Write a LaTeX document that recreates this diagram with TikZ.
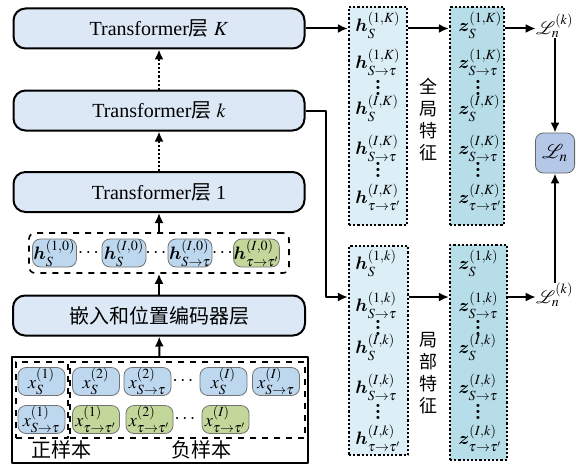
\documentclass[tikz,border=0pt]{standalone}
\usepackage{amsmath}
\usepackage{bm}
\usepackage{amssymb}
\usepackage{mathptmx}
\usepackage{fontspec}
\setmainfont{Liberation Serif}
\newfontfamily\cjk{Noto Sans CJK SC}
\usepackage{tikz}
\usetikzlibrary{arrows.meta}
\usetikzlibrary{positioning}
\definecolor{layerblue}{RGB}{220,232,245}
\definecolor{tokenblue}{RGB}{189,215,238}
\definecolor{tokengreen}{RGB}{196,215,155}
\definecolor{lossblue}{RGB}{180,199,231}
\definecolor{hcolumn}{RGB}{220,238,246}
\definecolor{zcolumn}{RGB}{183,222,232}
\newcommand{\coldots}{\vbox{\baselineskip 3pt\lineskiplimit 0pt\hbox{$\bm{.}$}\hbox{$\bm{.}$}\hbox{$\bm{.}$}}}

\begin{document}
\begin{tikzpicture}[>={Latex[length=5pt,width=4.5pt]},line join=bevel,x=0.5pt,y=-0.5pt,
    layer/.style={rectangle,rounded corners=6pt,draw,line width=1pt,fill=layerblue,minimum width=145.5pt,minimum height=20pt},
    token/.style={rectangle,rounded corners=4pt,draw=black!55,line width=0.4pt,fill=tokenblue,minimum width=22pt,minimum height=14pt,inner sep=0pt,font=\small},
    greentoken/.style={token,fill=tokengreen},
    group/.style={rectangle,draw,dashed,line width=0.8pt,rounded corners=3pt},
    column/.style={rectangle,draw,densely dotted,line width=1.1pt},
    entry/.style={anchor=west,inner sep=0pt,font=\small},
    coldot/.style={inner sep=0pt},
    losslabel/.style={anchor=east,inner sep=0pt,font=\small},
    flow/.style={color=black,line width=1pt,->}]
        %
        \useasboundingbox (0,0) rectangle (576,465);
        %
        \node[layer] (layerK) at (159,28.5) {Transformer{\cjk 层} $K$};
        \node[layer] (layerk) at (159,110.5) {Transformer{\cjk 层} $k$};
        \node[layer] (layer1) at (159,192) {Transformer{\cjk 层} 1};
        %
        \node[group,minimum width=130pt,minimum height=20pt] (hrow) at (159,253) {};
        \node[token] (h1) at (54.5,253) {$\bm{h}_S^{(1,0)}$};
        \node[coldot] (hdots1) at (89.5,253) {$\cdots$};
        \node[token] (hI) at (124,253) {$\bm{h}_S^{(I,0)}$};
        \node[coldot] (hdots2) at (157,253) {$\cdots$};
        \node[token] (hSt) at (190,253) {$\bm{h}_{S\to\tau}^{(I,0)}$};
        \node[coldot] (hdots3) at (223.5,253) {$\cdots$};
        \node[greentoken] (htt) at (256.5,253) {$\bm{h}_{\tau\to\tau'}^{(I,0)}$};
        %
        \node[layer,minimum width=146pt] (embed) at (159,315.5) {\cjk 嵌入和位置编码器层};
        %
        \node[rectangle,draw,line width=0.8pt,minimum width=148pt,minimum height=53pt] (input) at (160,410) {};
        \node[group,rounded corners=0pt,minimum width=26pt,minimum height=38pt] (pos) at (42,400) {};
        \node[group,rounded corners=0pt,minimum width=117.5pt,minimum height=38pt] (neg) at (187.5,400) {};
        \node[token,minimum width=23.5pt] (xS1) at (41.5,381.5) {$x_S^{(1)}$};
        \node[token,minimum width=23.5pt] (xS2) at (96,381.5) {$x_S^{(2)}$};
        \node[token,minimum width=23.5pt] (xSt2) at (147.5,381.5) {$x_{S\to\tau}^{(2)}$};
        \node[coldot] (xdots1) at (184,381.5) {$\cdots$};
        \node[token,minimum width=23.5pt] (xSI) at (223.5,381.5) {$x_S^{(I)}$};
        \node[token,minimum width=23.5pt] (xStI) at (276,381.5) {$x_{S\to\tau}^{(I)}$};
        \node[token,minimum width=23.5pt] (xSt1) at (41.5,419.5) {$x_{S\to\tau}^{(1)}$};
        \node[greentoken,minimum width=23.5pt] (xtt1) at (96,419.5) {$x_{\tau\to\tau'}^{(1)}$};
        \node[greentoken,minimum width=23.5pt] (xtt2) at (149.5,419.5) {$x_{\tau\to\tau'}^{(2)}$};
        \node[coldot] (xdots2) at (186,419.5) {$\cdots$};
        \node[greentoken,minimum width=23.5pt] (xttI) at (225.5,419.5) {$x_{\tau\to\tau'}^{(I)}$};
        \node[font=\cjk] (poslabel) at (61,450) {正样本};
        \node[font=\cjk] (neglabel) at (201,450) {负样本};
        %
        \node[column,fill=hcolumn,minimum width=29pt,minimum height=109pt] (hglobal) at (378,116) {};
        \node[entry] (hg1) at (355,25) {$\bm{h}_S^{(1,K)}$};
        \node[entry] (hg2) at (355,62) {$\bm{h}_{S\to\tau}^{(1,K)}$};
        \node[coldot] (hg3) at (378,88) {\coldots};
        \node[entry] (hg4) at (355,108) {$\bm{h}_S^{(I,K)}$};
        \node[entry] (hg5) at (355,148) {$\bm{h}_{S\to\tau}^{(I,K)}$};
        \node[coldot] (hg6) at (378,170) {\coldots};
        \node[entry] (hg7) at (355,197) {$\bm{h}_{\tau\to\tau'}^{(I,K)}$};
        \node[font=\cjk\small,align=center] (globallabel) at (428,120) {全\\局\\特\\征};
        %
        \node[column,fill=zcolumn,minimum width=27pt,minimum height=109pt] (zglobal) at (477,116) {};
        \node[entry] (zg1) at (458,25) {$\bm{z}_S^{(1,K)}$};
        \node[entry] (zg2) at (458,62) {$\bm{z}_{S\to\tau}^{(1,K)}$};
        \node[coldot] (zg3) at (478,88) {\coldots};
        \node[entry] (zg4) at (458,108) {$\bm{z}_S^{(I,K)}$};
        \node[entry] (zg5) at (458,148) {$\bm{z}_{S\to\tau}^{(I,K)}$};
        \node[coldot] (zg6) at (478,170) {\coldots};
        \node[entry] (zg7) at (458,197) {$\bm{z}_{\tau\to\tau'}^{(I,K)}$};
        %
        \node[column,fill=hcolumn,minimum width=29.5pt,minimum height=104.5pt] (hlocal) at (378.5,350.5) {};
        \node[entry] (hl1) at (355,263) {$\bm{h}_S^{(1,k)}$};
        \node[entry] (hl2) at (355,305) {$\bm{h}_{S\to\tau}^{(1,k)}$};
        \node[coldot] (hl3) at (378,328) {\coldots};
        \node[entry] (hl4) at (355,347) {$\bm{h}_S^{(I,k)}$};
        \node[entry] (hl5) at (355,387) {$\bm{h}_{S\to\tau}^{(I,k)}$};
        \node[coldot] (hl6) at (378,412) {\coldots};
        \node[entry] (hl7) at (355,438) {$\bm{h}_{\tau\to\tau'}^{(I,k)}$};
        \node[font=\cjk\small,align=center] (locallabel) at (428,373) {局\\部\\特\\征};
        %
        \node[column,fill=zcolumn,minimum width=28.5pt,minimum height=107.5pt] (zlocal) at (478.5,352.5) {};
        \node[entry] (zl1) at (458,263) {$\bm{z}_S^{(1,k)}$};
        \node[entry] (zl2) at (458,305) {$\bm{z}_{S\to\tau}^{(1,k)}$};
        \node[coldot] (zl3) at (478,328) {\coldots};
        \node[entry] (zl4) at (458,347) {$\bm{z}_S^{(I,k)}$};
        \node[entry] (zl5) at (458,387) {$\bm{z}_{S\to\tau}^{(I,k)}$};
        \node[coldot] (zl6) at (478,412) {\coldots};
        \node[entry] (zl7) at (458,438) {$\bm{z}_{\tau\to\tau'}^{(I,k)}$};
        %
        \node[losslabel] (lossK) at (574,26) {$\mathcal{L}_n^{(k)}$};
        \node[losslabel] (lossk) at (574,295) {$\mathcal{L}_n^{(k)}$};
        \node[rectangle,rounded corners=4pt,draw=black!60,fill=lossblue,minimum width=18pt,minimum height=20pt] (loss) at (555,153) {$\mathcal{L}_n$};
        \coordinate (turn) at (326,297);
        %
        \draw [flow] (input) to (embed);
        \draw [flow] (embed) to (hrow);
        \draw [flow] (hrow) to (layer1);
        \draw [flow,densely dotted] (layer1) to (layerk);
        \draw [flow,densely dotted] (layerk) to (layerK);
        \draw [flow] (layerK.east) to (layerK.east -| hglobal.west);
        \draw [flow] (hglobal.east |- layerK) to (zglobal.west |- layerK);
        \draw [flow] (zglobal.east |- layerK) to (lossK.west |- layerK);
        \draw [flow] (layerk.east) -| (turn) to (turn -| hlocal.west);
        \draw [flow] (hlocal.east |- turn) to (zlocal.west |- turn);
        \draw [flow] (zlocal.east |- turn) to (lossk.west |- turn);
        \draw [flow] (loss.north |- lossK.south) to (loss.north);
        \draw [flow] (loss.south |- lossk.north) to (loss.south);
        %
\end{tikzpicture}
\end{document}
